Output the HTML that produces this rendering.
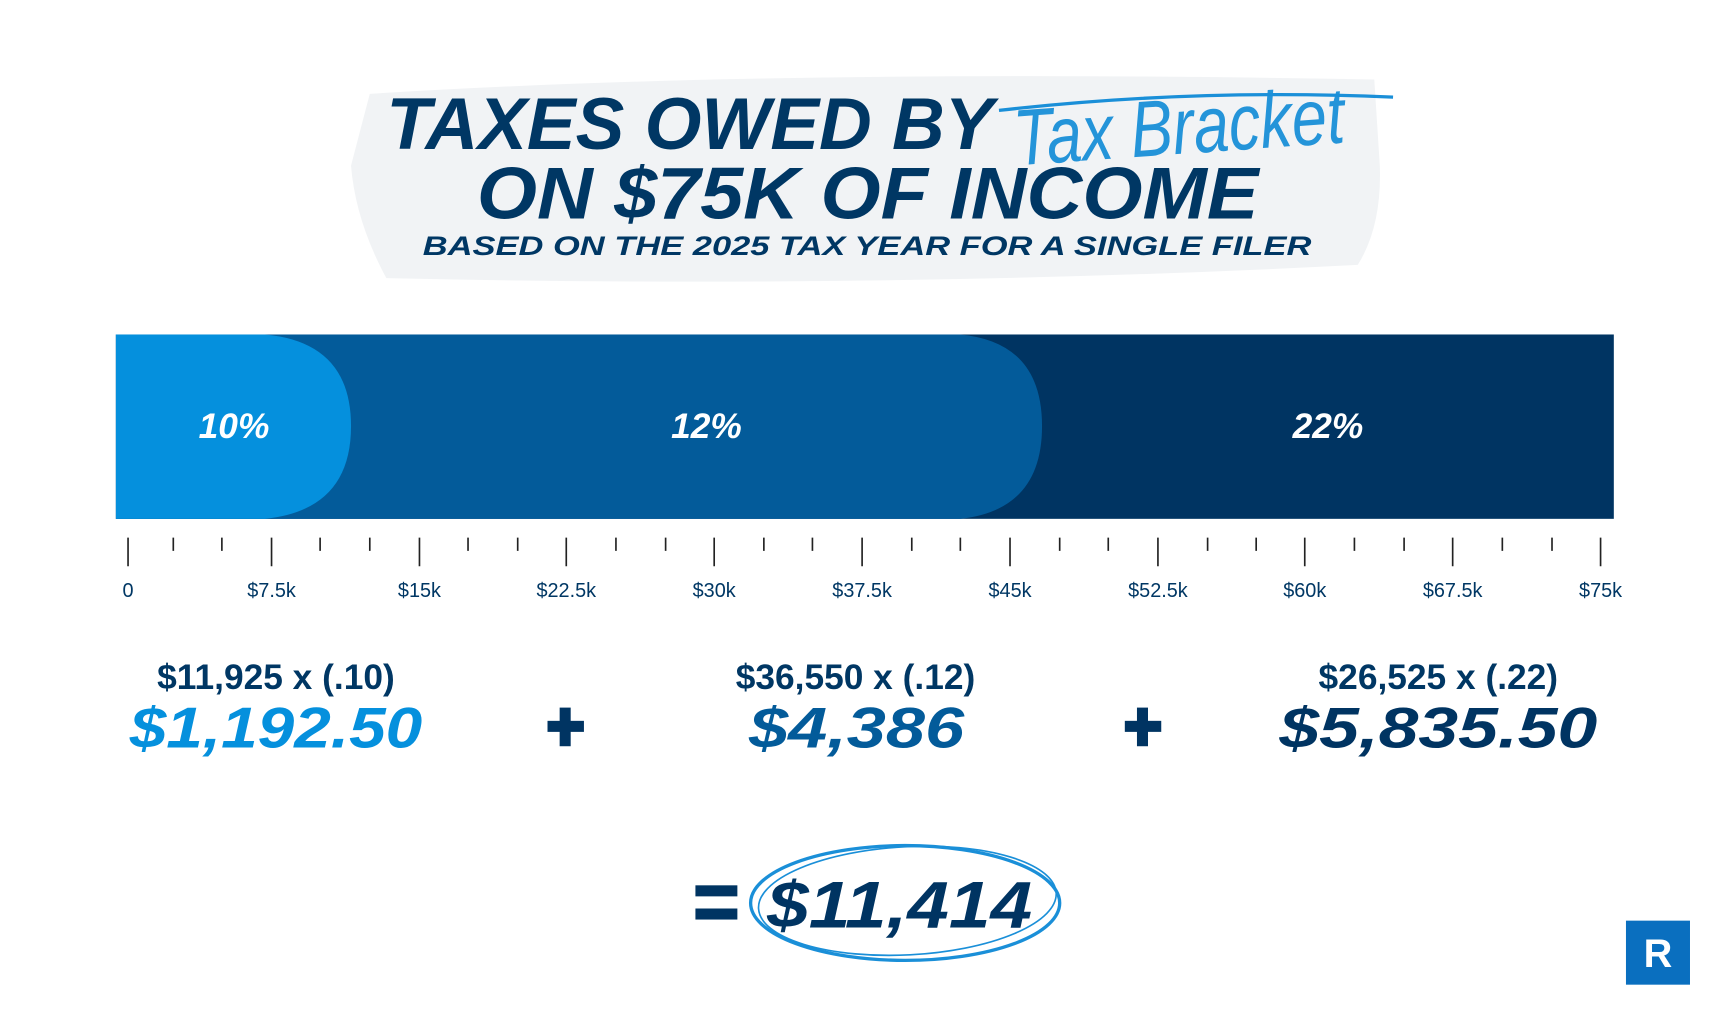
<!DOCTYPE html>
<html><head><meta charset="utf-8"><style>
html,body{margin:0;padding:0;background:#fff;width:1722px;height:1020px;overflow:hidden}
svg{display:block}
text{font-family:"Liberation Sans",sans-serif}
</style></head><body>
<svg width="1722" height="1020" viewBox="0 0 1560 924" preserveAspectRatio="none" xmlns="http://www.w3.org/2000/svg">
<rect width="1560" height="924" fill="#fff"/>
<!-- brush bg -->
<path d="M335 85 Q700 62 1245 72 L1250 150 Q1252 205 1230 240 Q800 262 350 252 Q322 200 318 150 Z" fill="#f1f3f5"/>
<g fill="#003764" font-weight="bold" font-style="italic">
<text x="350" y="135" font-size="66" textLength="550" lengthAdjust="spacingAndGlyphs">TAXES OWED BY</text>
<text x="432" y="198" font-size="66" textLength="708" lengthAdjust="spacingAndGlyphs">ON $75K OF INCOME</text>
<text x="383" y="231" font-size="24" textLength="805" lengthAdjust="spacingAndGlyphs">BASED ON THE 2025 TAX YEAR FOR A SINGLE FILER</text>
</g>
<text x="918" y="140" font-size="72" font-style="italic" fill="#1a8fd8" font-family="'DejaVu Serif',serif" font-weight="normal" textLength="300" lengthAdjust="spacingAndGlyphs" transform="rotate(-4 1060 115)" opacity="0.95">Tax Bracket</text>
<path d="M905 100 Q1080 80 1262 88" stroke="#1a8fd8" stroke-width="3" fill="none"/>
<!-- bar -->
<rect x="105" y="303" width="1357" height="167" fill="#003462"/>
<path d="M105 303 H870 Q944 310 944 386 Q944 462 870 470 H105 Z" fill="#035b9a"/>
<path d="M105 303 H240 Q318 310 318 386 Q318 462 240 470 H105 Z" fill="#0590dd"/>
<g fill="#fff" font-size="32" font-weight="bold" font-style="italic" text-anchor="middle">
<text x="212" y="397">10%</text><text x="640" y="397">12%</text><text x="1203" y="397">22%</text>
</g>
<g stroke="#222" stroke-width="1.5">
<path d="M116 487V513M246 487V513M380 487V513M513 487V513M647 487V513M781 487V513M915 487V513M1049 487V513M1182 487V513M1316 487V513M1450 487V513"/>
<path d="M157 487V499M201 487V499M290 487V499M335 487V499M424 487V499M469 487V499M558 487V499M603 487V499M692 487V499M736 487V499M826 487V499M870 487V499M960 487V499M1004 487V499M1094 487V499M1138 487V499M1227 487V499M1272 487V499M1361 487V499M1406 487V499"/>
</g>
<g fill="#003764" font-size="18" text-anchor="middle">
<text x="116" y="541">0</text><text x="246" y="541">$7.5k</text><text x="380" y="541">$15k</text><text x="513" y="541">$22.5k</text><text x="647" y="541">$30k</text><text x="781" y="541">$37.5k</text><text x="915" y="541">$45k</text><text x="1049" y="541">$52.5k</text><text x="1182" y="541">$60k</text><text x="1316" y="541">$67.5k</text><text x="1450" y="541">$75k</text>
</g>
<g fill="#003764" font-size="32" font-weight="bold" text-anchor="middle">
<text x="250" y="624">$11,925 x (.10)</text>
<text x="775" y="624">$36,550 x (.12)</text>
<text x="1303" y="624">$26,525 x (.22)</text>
</g>
<g font-size="52" font-weight="bold" font-style="italic" text-anchor="middle">
<text x="250" y="677" fill="#0590dd" textLength="265" lengthAdjust="spacingAndGlyphs">$1,192.50</text>
<text x="776" y="677" fill="#035b9a" textLength="195" lengthAdjust="spacingAndGlyphs">$4,386</text>
<text x="1303" y="677" fill="#003462" textLength="288" lengthAdjust="spacingAndGlyphs">$5,835.50</text>
</g>
<g fill="#003462">
<rect x="496" y="653" width="33" height="10"/><rect x="507" y="641" width="10" height="35"/>
<rect x="1019" y="653" width="33" height="10"/><rect x="1030" y="641" width="10" height="35"/>
<rect x="630" y="802" width="38" height="10"/><rect x="630" y="823" width="38" height="10"/>
</g>
<text x="815" y="840" fill="#003462" font-size="60" font-weight="bold" font-style="italic" text-anchor="middle" textLength="240" lengthAdjust="spacingAndGlyphs">$11,414</text>
<ellipse cx="820" cy="818" rx="140" ry="52" fill="none" stroke="#1a8fd8" stroke-width="3"/>
<ellipse cx="822" cy="816" rx="135" ry="49" fill="none" stroke="#1a8fd8" stroke-width="1.5" transform="rotate(-3 822 816)"/>
<rect x="1473" y="834" width="58" height="58" fill="#0a6fbf"/>
<text x="1502" y="876" fill="#fff" font-size="36" font-weight="bold" text-anchor="middle">R</text>
</svg>
</body></html>
